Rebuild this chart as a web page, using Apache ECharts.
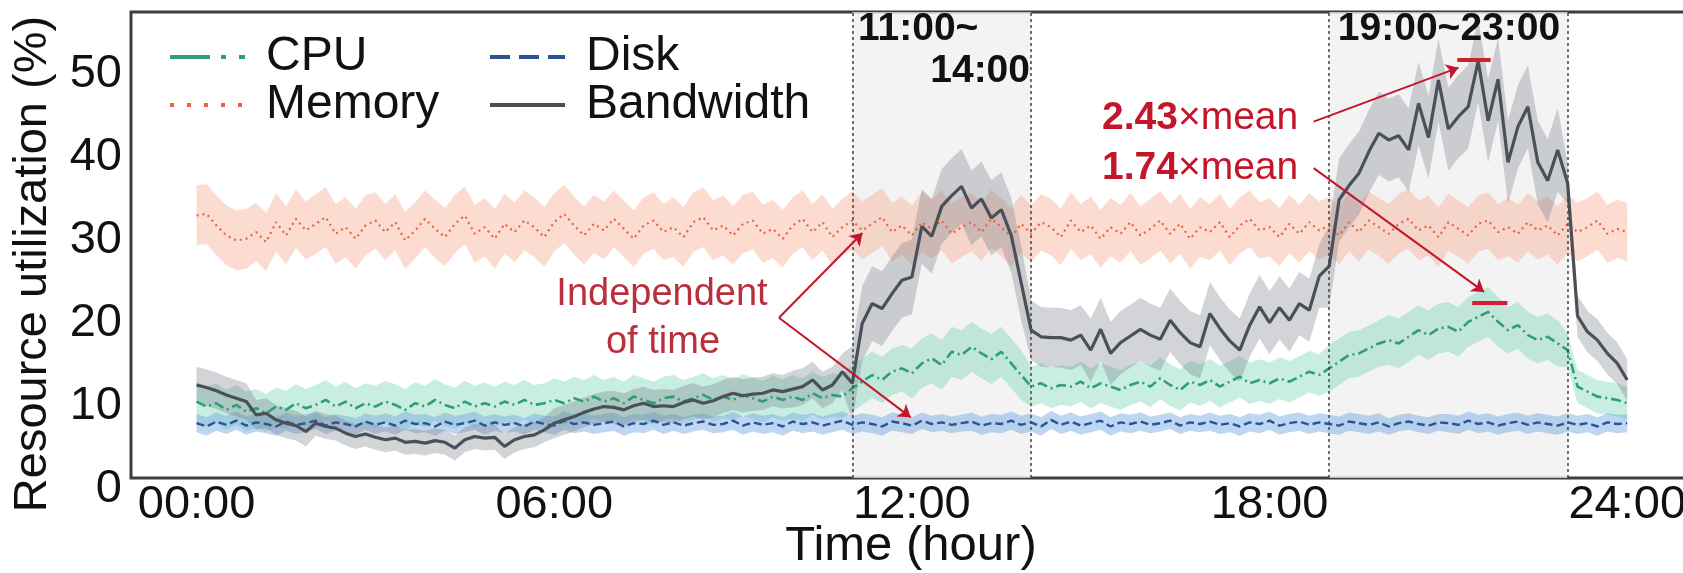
<!DOCTYPE html>
<html>
<head>
<meta charset="utf-8">
<script src="https://cdn.jsdelivr.net/npm/echarts@6/dist/echarts.min.js"></script>
<style>
  html, body { margin: 0; padding: 0; background: #fff; }
  #chart { width: 1683px; height: 573px; }
</style>
</head>
<body>
<div id="chart"></div>
<script>
// one sample every 10 minutes, 00:00 .. 24:00 (145 points)
const cpu = [
  9.2, 8.6, 9.0, 8.2, 8.8, 8.0,   8.4, 7.8, 8.6, 8.2, 9.0, 8.4,
  8.8, 9.4, 8.6, 9.2, 8.4, 9.0,   8.6, 9.2, 8.8, 8.2, 9.0, 8.6,
  9.4, 8.8, 8.4, 9.2, 8.6, 9.0,   8.6, 9.2, 8.8, 9.4, 8.8, 9.0,
  9.4, 9.0, 9.6, 9.2, 9.8, 9.2,   9.6, 9.0, 9.8, 9.4, 9.0, 9.6,
  9.8, 9.2, 9.6, 10.0, 9.4, 9.8,  9.4, 10.0, 9.6, 9.2, 9.8, 9.4,
  9.8, 9.4, 10.2, 9.6, 10.0, 9.8, 10.8, 11.6, 12.4, 11.8, 12.8, 13.2,
  12.6, 13.8, 14.4, 13.6, 15.2, 14.8, 15.8, 15.0, 14.3, 15.2, 13.8, 12.4,
  11.0, 11.4, 10.8, 11.2, 11.0, 11.6, 10.8, 11.4, 11.0, 10.6, 11.2, 11.6,
  11.0, 12.0, 11.2, 10.6, 11.6, 11.2, 11.8, 11.0, 11.6, 12.2, 11.4, 11.8,
  11.4, 12.0, 11.6, 12.2, 12.8, 12.4, 13.2, 14.0, 14.8, 15.0, 15.6, 16.2,
  16.6, 16.2, 17.0, 17.8, 17.2, 18.0, 18.2, 17.6, 18.8, 19.4, 20.0, 18.8,
  17.8, 18.4, 17.2, 16.6, 17.0, 16.2, 15.4, 11.0, 10.4, 9.8, 9.6, 9.4, 9.0
];
const memory = [
  31.6, 31.8, 30.4, 29.2, 28.6, 28.8, 29.6, 28.4, 30.8, 29.2, 31.2, 29.8,
  30.6, 31.4, 29.4, 30.2, 28.8, 30.4, 31.0, 29.6, 30.8, 28.6, 29.8, 31.2,
  30.0, 29.0, 30.6, 31.6, 29.4, 30.2, 28.8, 30.6, 29.6, 31.0, 30.2, 29.0,
  30.8, 31.8, 30.4, 29.2, 30.6, 29.8, 31.2, 30.0, 28.8, 30.4, 31.0, 29.6,
  30.2, 29.0, 30.8, 31.4, 29.8, 30.4, 29.2, 30.6, 31.0, 29.4, 30.0, 28.8,
  30.4, 31.2, 29.6, 30.8, 29.0, 30.2, 31.0, 29.8, 30.6, 31.4, 29.6, 30.4,
  29.2, 30.8, 30.0, 31.0, 29.4, 30.2, 30.8, 29.6, 31.2, 30.2, 29.0, 30.6,
  29.4, 30.8, 30.2, 29.0, 31.0, 29.6, 30.4, 28.8, 30.2, 29.4, 30.8, 29.2,
  30.0, 31.0, 29.4, 30.6, 28.8, 30.2, 29.6, 30.8, 29.0, 30.4, 31.2, 29.8,
  30.2, 29.0, 30.6, 29.4, 30.8, 29.8, 30.4, 29.2, 30.8, 29.6, 31.0, 30.2,
  29.4, 30.6, 31.2, 29.8, 30.4, 29.0, 30.8, 30.0, 29.2, 30.6, 31.0, 29.6,
  30.2, 29.4, 30.8, 29.8, 30.4, 29.2, 30.6, 29.6, 30.2, 31.0, 29.4, 30.0, 29.6
];
const disk = [
  6.6, 6.2, 6.8, 6.4, 6.9, 6.3, 6.7, 6.5, 6.2, 6.8, 6.4, 6.6,
  6.9, 6.3, 6.7, 6.5, 6.2, 6.8, 6.4, 6.7, 6.3, 6.9, 6.5, 6.6,
  6.2, 6.8, 6.4, 6.6, 6.9, 6.3, 6.7, 6.4, 6.6, 6.2, 6.8, 6.5,
  6.3, 6.9, 6.5, 6.7, 6.4, 6.6, 6.8, 6.2, 6.6, 6.5, 6.9, 6.4,
  6.7, 6.3, 6.6, 6.8, 6.4, 6.5, 6.9, 6.3, 6.7, 6.4, 6.6, 6.2,
  6.8, 6.5, 6.7, 6.3, 6.6, 6.9, 6.4, 6.7, 6.5, 6.2, 6.8, 6.6,
  6.3, 6.9, 6.5, 6.7, 6.4, 6.6, 6.8, 6.3, 6.6, 6.5, 6.9, 6.4,
  6.7, 6.2, 7.0, 6.4, 6.8, 6.3, 6.6, 6.9, 6.2, 6.7, 6.5, 6.8,
  6.4, 6.6, 6.9, 6.3, 6.7, 6.5, 6.8, 6.4, 6.6, 6.2, 6.7, 6.5,
  6.9, 6.3, 6.6, 6.8, 6.4, 6.7, 6.5, 6.3, 6.8, 6.6, 6.4, 6.7,
  6.2, 6.6, 6.8, 6.5, 6.3, 6.7, 6.6, 6.4, 6.9, 6.5, 6.7, 6.3,
  6.6, 6.8, 6.4, 6.7, 6.5, 6.3, 6.7, 6.4, 6.6, 6.2, 6.7, 6.5, 6.6
];
const bandwidth = [
  11.2, 10.9, 10.5, 10.0, 9.6, 9.2, 7.6, 7.8, 7.0, 6.6, 6.3, 5.6,
  6.6, 6.2, 6.0, 5.4, 5.0, 5.3, 4.9, 4.6, 4.8, 4.3, 4.4, 4.2,
  4.5, 4.3, 3.6, 4.6, 5.0, 4.8, 4.9, 3.8, 4.6, 5.0, 5.2, 5.8,
  6.6, 7.0, 7.4, 7.9, 8.3, 8.6, 8.5, 8.2, 8.7, 9.0, 8.6, 8.7,
  8.6, 9.1, 9.4, 9.0, 9.3, 9.8, 10.2, 9.9, 10.1, 10.2, 10.6, 10.4,
  10.7, 11.0, 11.8, 10.6, 11.2, 12.8, 11.4, 18.6, 21.0, 20.4, 22.2, 23.8,
  24.2, 30.3, 29.1, 32.7, 34.0, 35.1, 32.5, 33.6, 31.3, 32.3, 29.2, 23.5,
  17.8, 17.0, 16.9, 16.9, 16.6, 17.2, 15.4, 17.9, 15.0, 16.3, 17.1, 17.9,
  17.2, 16.7, 19.0, 17.5, 16.3, 15.8, 19.8, 18.0, 16.5, 15.4, 18.4, 20.6,
  18.7, 20.5, 19.0, 21.0, 20.2, 24.3, 25.5, 33.5, 35.2, 36.7, 39.3, 41.5,
  40.7, 41.2, 39.5, 45.1, 41.0, 47.9, 42.0, 43.5, 44.7, 50.2, 43.0, 48.0,
  38.0, 42.3, 44.7, 38.0, 35.8, 39.5, 35.5, 19.5, 17.6, 16.6, 15.0, 13.8, 11.8
];

// spread (std) of each resource, one value per hour
const cpuStd = [2.4, 2.3, 2.4, 2.5, 2.5, 2.4, 2.6, 2.6, 2.6, 2.5, 2.6, 2.8, 3.0, 3.0, 2.4, 2.4, 2.5, 2.5, 2.5, 2.8, 3.0, 3.0, 2.8, 2.0];
const memoryStd = [3.6, 3.5, 3.6, 3.4, 3.5, 3.6, 3.5, 3.4, 3.6, 3.5, 3.4, 3.5, 3.6, 3.5, 3.4, 3.5, 3.6, 3.4, 3.5, 3.5, 3.6, 3.4, 3.5, 3.5];
const diskStd = [1.1, 1.1, 1.0, 1.1, 1.1, 1.0, 1.1, 1.1, 1.0, 1.1, 1.1, 1.1, 1.0, 1.1, 1.1, 1.1, 1.0, 1.1, 1.1, 1.1, 1.0, 1.1, 1.1, 1.1];
const bandwidthStd = [2.2, 1.8, 1.5, 1.5, 1.5, 1.5, 1.8, 2.0, 2.0, 2.0, 2.2, 4.5, 4.5, 4.5, 3.6, 3.8, 3.8, 3.8, 3.8, 5.0, 5.0, 5.0, 5.0, 2.5];

const xTickHours = [0, 6, 12, 18, 24];
const xTickLabels = ['00:00', '06:00', '12:00', '18:00', '24:00'];
const yTicks = [0, 10, 20, 30, 40, 50];
const peakWindows = [[11, 14], [19, 23]];

const hours = cpu.map((_, i) => i / 6);
const FONT = 'Liberation Sans, Arial, sans-serif';

function meanPoints(arr) {
  return arr.map((v, i) => [hours[i], v]);
}
function stdAt(std, i) {
  return std[Math.min(23, Math.floor(i / 6))];
}

// mean ± std band, drawn as one polygon through the axis scales
function bandSeries(key, mean, std, color) {
  const upper = mean.map((v, i) => v + stdAt(std, i));
  const lower = mean.map((v, i) => v - stdAt(std, i));
  return {
    name: key + '-band', type: 'custom', silent: true, z: 1, clip: true,
    data: [[0, 0]],
    renderItem: (params, api) => {
      const pts = [];
      for (let i = 0; i < upper.length; i++) pts.push(api.coord([hours[i], upper[i]]));
      for (let i = lower.length - 1; i >= 0; i--) pts.push(api.coord([hours[i], lower[i]]));
      return { type: 'polygon', shape: { points: pts }, style: { fill: color } };
    }
  };
}

const chart = echarts.init(document.getElementById('chart'), null, { renderer: 'canvas' });

const red = '#c4162a';
const legendText = { fontSize: 48, lineHeight: 46, fontFamily: FONT, color: '#111', padding: [0, 0, 0, 16] };

const option = {
  animation: false,
  backgroundColor: '#ffffff',
  grid: {
    show: true, left: 131, top: 12, right: -8, bottom: 95,
    outerBoundsMode: 'none', containLabel: false,
    borderColor: '#3c3c3c', borderWidth: 3, backgroundColor: 'transparent'
  },
  xAxis: {
    type: 'value', min: -1.1, max: 25.07,
    axisLine: { show: false }, axisTick: { show: false }, splitLine: { show: false },
    axisLabel: {
      customValues: xTickHours,
      formatter: v => xTickLabels[xTickHours.indexOf(v)] || '',
      fontSize: 47, fontFamily: FONT, color: '#111', margin: 4
    },
    name: 'Time (hour)', nameLocation: 'middle', nameGap: 44, nameMoveOverlap: false,
    nameTextStyle: { fontSize: 49, fontFamily: FONT, color: '#111' }
  },
  yAxis: {
    type: 'value', min: 0, max: 56.1,
    axisLine: { show: false }, axisTick: { show: false }, splitLine: { show: false },
    axisLabel: {
      customValues: yTicks,
      formatter: v => '{l|' + v + '}',
      margin: 9,
      rich: { l: { fontSize: 47, fontFamily: FONT, color: '#111', padding: [22, 0, 0, 0] } }
    },
    name: 'Resource utilization (%)', nameLocation: 'middle', nameGap: 74,
    nameTextStyle: { fontSize: 47, fontFamily: FONT, color: '#111', padding: [0, 38, 0, 0] }
  },
  legend: [
    {
      data: [
        { name: 'CPU', lineStyle: { type: [40, 11, 5, 13], width: 4 } },
        { name: 'Memory', lineStyle: { type: [4, 13], width: 4 } }
      ],
      orient: 'vertical', left: 163, top: 28, itemWidth: 75, itemHeight: 1, itemGap: 0,
      textStyle: legendText
    },
    {
      data: [
        { name: 'Disk', lineStyle: { type: [20, 9], width: 4 } },
        { name: 'Bandwidth', lineStyle: { type: 'solid', width: 4 } }
      ],
      orient: 'vertical', left: 483, top: 28, itemWidth: 75, itemHeight: 1, itemGap: 0,
      textStyle: legendText
    }
  ],
  series: [
    {
      name: 'windows', type: 'line', data: [], z: 0, silent: true,
      markArea: {
        silent: true,
        itemStyle: { color: '#efefef', opacity: 0.75 },
        data: peakWindows.map(w => [{ xAxis: w[0], yAxis: 0 }, { xAxis: w[1], yAxis: 56.1 }])
      }
    },
    bandSeries('memory', memory, memoryStd, 'rgba(248,172,145,0.42)'),
    bandSeries('cpu', cpu, cpuStd, 'rgba(110,210,175,0.38)'),
    bandSeries('disk', disk, diskStd, 'rgba(110,165,225,0.45)'),
    bandSeries('bandwidth', bandwidth, bandwidthStd, 'rgba(115,120,130,0.32)'),
    {
      name: 'Memory', type: 'line', symbol: 'none', z: 3, data: meanPoints(memory),
      lineStyle: { color: '#e8643e', width: 2.2, type: [2, 4] }, itemStyle: { color: '#e8643e' }
    },
    {
      name: 'CPU', type: 'line', symbol: 'none', z: 3, data: meanPoints(cpu),
      lineStyle: { color: '#2f9d77', width: 2.6, type: [10, 4, 2, 4] }, itemStyle: { color: '#2f9d77' }
    },
    {
      name: 'Disk', type: 'line', symbol: 'none', z: 3, data: meanPoints(disk),
      lineStyle: { color: '#2b5497', width: 2.4, type: [8, 4] }, itemStyle: { color: '#2b5497' }
    },
    {
      name: 'Bandwidth', type: 'line', symbol: 'none', z: 4, data: meanPoints(bandwidth),
      lineStyle: { color: '#4a5058', width: 3.2 }, itemStyle: { color: '#4a5058' }
    },
    {
      name: 'edges', type: 'line', data: [], z: 5, silent: true,
      markLine: {
        silent: true, symbol: 'none', label: { show: false },
        lineStyle: { color: '#444', width: 1.5, type: [3, 3] },
        data: peakWindows.flat().map(h => ({ xAxis: h }))
      }
    },
    {
      name: 'arrows', type: 'line', data: [], z: 6, silent: true,
      markLine: {
        silent: true, symbol: ['none', 'arrow'], symbolSize: 12, label: { show: false },
        lineStyle: { color: red, width: 2, type: 'solid' },
        data: [
          [{ coord: [9.77, 19.3] }, { coord: [11.17, 29.5] }],
          [{ coord: [9.77, 19.3] }, { coord: [11.98, 7.3] }],
          [{ coord: [18.74, 42.9] }, { coord: [21.17, 49.4] }],
          [{ coord: [18.74, 37.3] }, { coord: [21.6, 22.4] }]
        ]
      }
    },
    {
      name: 'peaks', type: 'line', data: [], z: 6, silent: true,
      markLine: {
        silent: true, symbol: 'none', label: { show: false },
        lineStyle: { color: '#d0202c', width: 4, type: 'solid' },
        data: [
          [{ coord: [21.15, 50.3] }, { coord: [21.71, 50.3] }],
          [{ coord: [21.4, 21.05] }, { coord: [21.99, 21.05] }]
        ]
      }
    }
  ],
  graphic: [
    { type: 'text', x: 662, y: 295, z: 20, style: { text: 'Independent', font: '38px ' + FONT, fill: '#b8303e', align: 'center', verticalAlign: 'middle' } },
    { type: 'text', x: 663, y: 343, z: 20, style: { text: 'of time', font: '38px ' + FONT, fill: '#b8303e', align: 'center', verticalAlign: 'middle' } },
    { type: 'text', x: 1102, y: 118, z: 20, style: { text: '{b|2.43}×mean', font: '39px ' + FONT, fill: red, align: 'left', verticalAlign: 'middle', rich: { b: { fontWeight: 'bold', fontSize: 39, fontFamily: FONT, fill: red } } } },
    { type: 'text', x: 1102, y: 168, z: 20, style: { text: '{b|1.74}×mean', font: '39px ' + FONT, fill: red, align: 'left', verticalAlign: 'middle', rich: { b: { fontWeight: 'bold', fontSize: 39, fontFamily: FONT, fill: red } } } },
    { type: 'text', x: 858, y: 29, z: 20, style: { text: '11:00~', font: 'bold 39px ' + FONT, fill: '#111', align: 'left', verticalAlign: 'middle' } },
    { type: 'text', x: 1030, y: 71, z: 20, style: { text: '14:00', font: 'bold 39px ' + FONT, fill: '#111', align: 'right', verticalAlign: 'middle' } },
    { type: 'text', x: 1449, y: 29, z: 20, style: { text: '19:00~23:00', font: 'bold 39px ' + FONT, fill: '#111', align: 'center', verticalAlign: 'middle' } }
  ]
};

chart.setOption(option);
</script>
</body>
</html>
